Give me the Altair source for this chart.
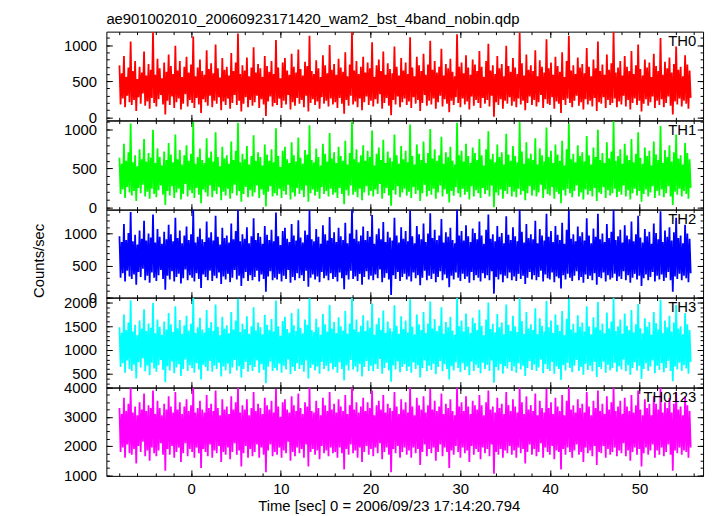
import altair as alt
import pandas as pd

FONT = "Liberation Sans"
TITLE = "ae901002010_20060923171420_wam2_bst_4band_nobin.qdp"
X_TITLE = "Time [sec] 0 = 2006/09/23 17:14:20.794"
Y_TITLE = "Counts/sec"

TIME_START = -8.0
TIME_END = 55.7
X_DOMAIN = [-9.46, 57.08]
X_MAJOR = [0, 10, 20, 30, 40, 50]
X_MINOR = list(range(-8, 57, 2))

NAMES = ["TH0", "TH1", "TH2", "TH3", "TH0123"]
COLORS = ["#ff0000", "#00ff00", "#0000ff", "#00ffff", "#ff00ff"]
Y_DOMAINS = [[-41, 1187], [-31, 1119], [-2, 1376], [208, 2104], [978, 4002]]
Y_MAJOR = [[0, 500, 1000], [0, 500, 1000], [0, 500, 1000],
           [500, 1000, 1500, 2000], [1000, 2000, 3000, 4000]]
Y_MINOR_STEP = [100, 100, 100, 100, 250]

TH0 = [720, 180, 610, 260, 850, 140, 560, 300, 690, 210, 1050, 170, 640, 240, 780, 90, 530, 280, 700, 190, 620, 330, 910, 160, 580, 220, 740, 120, 660, 270, 1180, 200,
       590, 150, 810, 250, 680, 310, 540, 180, 760, 40, 630, 230, 870, 170, 710, 290, 600, 130, 990, 210, 650, 260, 780, 110, 560, 190, 700, 320, 840, 150, 620, 240,
       730, 200, 1120, 130, 570, 270, 690, 180, 800, 60, 640, 250, 590, 210, 930, 160, 670, 300, 750, 140, 610, 230, 1010, 190, 680, 280, 550, 100, 820, 220, 660, 170,
       700, 260, 580, 120, 890, 200, 640, 310, 760, 170, 1160, 230, 600, 80, 720, 190, 650, 280, 830, 140, 570, 240, 690, 160, 970, 210, 620, 300, 740, 130, 680, 250,
       560, 180, 850, 20, 710, 220, 630, 290, 780, 150, 600, 200, 1070, 170, 690, 260, 540, 130, 760, 230, 820, 180, 650, 310, 590, 110, 880, 210, 700, 160, 620, 270,
       940, 190, 670, 240, 580, 140, 770, 300, 710, 80, 1130, 200, 640, 250, 600, 170, 790, 220, 680, 120, 560, 280, 860, 190, 720, 230, 610, 150, 1000, 260, 660, 180,
       740, 210, 590, 130, 810, 270, 690, 190, 630, 50, 900, 240, 570, 160, 730, 300, 1180, 180, 650, 220, 780, 140, 600, 260, 700, 100, 840, 210, 620, 290, 760, 170,
       680, 230, 1040, 150, 560, 250, 720, 190, 800, 320, 640, 120, 910, 200, 590, 270, 750, 160, 670, 30, 610, 240, 980, 180, 700, 290, 580, 140, 820, 210, 650, 260,
       760, 170, 600, 220, 1110, 130, 690, 280, 570, 190, 840, 240, 720, 90, 640, 200, 880, 310, 590, 160, 730, 230, 1060, 180, 660, 260, 780, 120, 620, 210, 700, 300,
       950, 150, 580, 250, 740, 190, 680, 70, 810, 230, 630, 170, 570, 280, 1150, 200, 700, 140, 760, 260, 610, 180, 860, 220, 690, 110, 590, 290, 800, 160, 730, 240,
       640, 200, 920, 130, 700, 270, 560, 190, 780, 240, 1020, 150, 650, 300, 720, 10, 600, 210, 850, 170, 680, 250, 740, 120, 570, 230, 990, 190, 710, 280, 630, 160,
       820, 220, 690, 140, 600, 260, 1170, 180, 750, 230, 580, 100, 870, 200, 660, 290, 720, 170, 640, 240, 930, 150, 570, 210, 790, 310, 700, 130, 620, 250, 1080, 190,
       680, 170, 760, 280, 590, 120, 840, 220, 710, 190, 630, 60, 900, 240, 560, 170, 780, 260, 1130, 200, 650, 140, 720, 230, 600, 300, 830, 160, 690, 210, 740, 110,
       610, 250, 960, 180, 700, 230, 570, 150, 800, 270, 680, 90, 1050, 210, 640, 190, 730, 280, 590, 130, 870, 240, 660, 170, 750, 200, 1190, 260, 620, 140, 690, 220,
       780, 180, 580, 300, 850, 150, 700, 240, 640, 110, 920, 200, 600, 260, 720, 170, 1010, 230, 670, 80, 580, 190, 800, 250, 690, 160, 760, 210, 560, 290, 880, 130,
       710, 230, 640, 170, 1100, 250, 590, 140, 770, 200, 680, 290, 830, 160, 620, 40, 740, 220, 980, 180, 660, 260, 700, 150, 570, 230, 860, 190, 730, 120, 650, 270]

TH1 = [640, 170, 560, 230, 820, 120, 600, 260, 710, 190, 1080, 150, 580, 210, 670, 80, 530, 250, 750, 180, 620, 290, 880, 140, 590, 200, 700, 110, 640, 240, 1000, 170,
       570, 130, 760, 220, 650, 280, 540, 160, 720, 30, 610, 210, 830, 150, 680, 270, 580, 120, 940, 190, 620, 240, 740, 100, 550, 170, 670, 300, 800, 140, 600, 220,
       690, 180, 1100, 120, 560, 250, 650, 160, 760, 50, 610, 230, 570, 190, 890, 140, 640, 280, 720, 130, 590, 210, 970, 170, 650, 260, 530, 90, 780, 200, 630, 150,
       670, 240, 560, 110, 850, 180, 610, 290, 730, 150, 1090, 210, 580, 70, 690, 170, 620, 260, 790, 130, 550, 220, 660, 140, 930, 190, 600, 280, 710, 120, 650, 230,
       540, 160, 810, 10, 680, 200, 600, 270, 750, 140, 580, 180, 1020, 150, 660, 240, 520, 120, 730, 210, 780, 160, 620, 290, 570, 100, 840, 190, 670, 140, 590, 250,
       900, 170, 640, 220, 560, 130, 740, 280, 680, 70, 1060, 180, 610, 230, 580, 150, 760, 200, 650, 110, 540, 260, 820, 170, 690, 210, 590, 140, 960, 240, 630, 160,
       710, 190, 570, 120, 780, 250, 660, 170, 600, 40, 860, 220, 550, 150, 700, 280, 1110, 160, 620, 200, 750, 130, 580, 240, 670, 90, 800, 190, 600, 270, 730, 150,
       650, 210, 990, 140, 540, 230, 690, 170, 770, 300, 610, 110, 870, 180, 570, 250, 720, 150, 640, 20, 590, 220, 940, 160, 670, 270, 560, 130, 790, 190, 620, 240,
       730, 150, 580, 200, 1070, 120, 660, 260, 550, 170, 810, 220, 690, 80, 610, 180, 850, 290, 570, 140, 700, 210, 1010, 160, 630, 240, 750, 110, 600, 190, 670, 280,
       910, 140, 560, 230, 710, 170, 650, 60, 780, 210, 600, 150, 550, 260, 1090, 180, 670, 130, 730, 240, 590, 160, 820, 200, 660, 100, 570, 270, 770, 140, 700, 220,
       610, 180, 880, 120, 670, 250, 540, 170, 750, 220, 980, 140, 620, 280, 690, 0, 580, 190, 810, 150, 650, 230, 710, 110, 550, 210, 950, 170, 680, 260, 600, 140,
       790, 200, 660, 130, 580, 240, 1100, 160, 720, 210, 560, 90, 840, 180, 630, 270, 690, 150, 610, 220, 890, 140, 550, 190, 760, 290, 670, 120, 590, 230, 1030, 170,
       650, 150, 730, 260, 570, 110, 810, 200, 680, 170, 600, 50, 860, 220, 540, 150, 750, 240, 1080, 180, 620, 130, 690, 210, 580, 280, 800, 140, 660, 190, 710, 100,
       590, 230, 920, 160, 670, 210, 550, 140, 770, 250, 650, 80, 1000, 190, 610, 170, 700, 260, 570, 120, 840, 220, 630, 150, 720, 180, 1110, 240, 600, 130, 660, 200,
       750, 160, 560, 280, 820, 140, 670, 220, 610, 100, 880, 180, 580, 240, 690, 150, 970, 210, 640, 70, 560, 170, 770, 230, 660, 140, 730, 190, 540, 270, 850, 120,
       680, 210, 610, 150, 1050, 230, 570, 130, 740, 180, 650, 270, 800, 140, 590, 30, 710, 200, 940, 160, 630, 240, 670, 140, 550, 210, 830, 170, 700, 110, 620, 250]

TH2 = [960, 310, 870, 380, 1150, 250, 900, 420, 1010, 330, 1340, 290, 880, 360, 980, 200, 830, 400, 1050, 320, 920, 450, 1200, 270, 890, 340, 1000, 230, 940, 390, 1300, 310,
       860, 260, 1070, 350, 950, 430, 840, 290, 1030, 120, 910, 340, 1140, 280, 990, 410, 880, 250, 1250, 320, 930, 370, 1050, 220, 850, 300, 970, 440, 1110, 270, 900, 350,
       990, 310, 1376, 250, 860, 380, 950, 290, 1080, 150, 910, 360, 870, 320, 1190, 270, 940, 420, 1020, 260, 890, 340, 1280, 300, 950, 390, 830, 210, 1090, 330, 930, 280,
       970, 370, 860, 240, 1160, 310, 910, 430, 1040, 280, 1370, 340, 880, 180, 990, 300, 920, 400, 1100, 260, 850, 350, 960, 270, 1240, 320, 900, 420, 1010, 250, 950, 360,
       840, 290, 1120, 90, 980, 330, 900, 410, 1060, 270, 880, 310, 1330, 280, 960, 370, 820, 250, 1040, 340, 1090, 290, 920, 430, 870, 230, 1150, 320, 970, 270, 890, 380,
       1210, 300, 940, 350, 860, 260, 1050, 420, 980, 170, 1370, 310, 910, 360, 880, 280, 1070, 330, 950, 240, 840, 400, 1130, 300, 990, 340, 890, 270, 1260, 380, 930, 290,
       1020, 320, 870, 250, 1090, 390, 960, 300, 900, 130, 1170, 350, 850, 280, 1000, 420, 1376, 290, 920, 330, 1060, 260, 880, 370, 970, 200, 1110, 320, 900, 410, 1040, 280,
       950, 340, 1290, 270, 840, 360, 990, 300, 1080, 440, 910, 240, 1180, 310, 870, 380, 1030, 280, 940, 40, 890, 350, 1250, 290, 970, 400, 860, 260, 1100, 320, 920, 370,
       1040, 280, 880, 330, 1360, 250, 960, 390, 850, 300, 1120, 350, 990, 190, 910, 310, 1160, 420, 870, 270, 1000, 340, 1320, 290, 930, 370, 1060, 240, 900, 320, 970, 410,
       1230, 270, 860, 360, 1020, 300, 950, 160, 1090, 340, 900, 280, 850, 390, 1376, 310, 970, 260, 1040, 370, 890, 290, 1130, 330, 960, 230, 870, 400, 1080, 270, 1010, 350,
       910, 310, 1190, 250, 970, 380, 840, 300, 1060, 350, 1300, 270, 920, 410, 990, 60, 880, 320, 1120, 280, 950, 360, 1010, 240, 850, 340, 1270, 300, 980, 390, 900, 270,
       1100, 330, 960, 260, 880, 370, 1376, 290, 1030, 340, 860, 210, 1150, 310, 930, 400, 990, 280, 910, 350, 1200, 270, 850, 320, 1070, 420, 970, 250, 890, 360, 1310, 300,
       950, 280, 1040, 390, 870, 240, 1120, 330, 980, 300, 900, 140, 1170, 350, 840, 280, 1060, 370, 1360, 310, 920, 260, 990, 340, 880, 410, 1110, 270, 960, 320, 1020, 230,
       890, 360, 1240, 290, 970, 340, 850, 270, 1080, 380, 950, 200, 1310, 320, 910, 300, 1000, 390, 870, 250, 1150, 350, 930, 280, 1030, 310, 1376, 370, 900, 260, 960, 330,
       1060, 290, 860, 410, 1130, 270, 970, 350, 910, 230, 1190, 310, 880, 370, 990, 280, 1280, 340, 940, 180, 860, 300, 1070, 360, 960, 270, 1030, 320, 840, 400, 1160, 250,
       1010, 340, 910, 280, 1350, 360, 870, 260, 1050, 310, 950, 400, 1100, 270, 890, 90, 1020, 330, 1250, 290, 930, 370, 970, 270, 850, 340, 1140, 300, 1000, 240, 920, 380]

TH3 = [1480, 640, 1360, 720, 1750, 520, 1420, 780, 1580, 600, 2050, 560, 1390, 690, 1530, 400, 1310, 740, 1620, 630, 1450, 820, 1860, 550, 1400, 670, 1560, 470, 1470, 730, 1990, 610,
       1350, 540, 1640, 680, 1490, 790, 1320, 580, 1600, 320, 1430, 660, 1780, 570, 1540, 760, 1380, 510, 1920, 630, 1460, 700, 1630, 450, 1340, 600, 1520, 800, 1720, 560, 1410, 680,
       1550, 620, 2100, 520, 1360, 720, 1480, 590, 1680, 380, 1430, 690, 1370, 640, 1840, 560, 1470, 770, 1590, 540, 1400, 670, 1960, 600, 1490, 730, 1310, 440, 1700, 650, 1450, 570,
       1520, 710, 1350, 500, 1800, 630, 1430, 790, 1620, 570, 2080, 660, 1380, 420, 1550, 600, 1440, 750, 1710, 540, 1340, 680, 1500, 560, 1900, 640, 1410, 780, 1580, 520, 1480, 700,
       1330, 580, 1740, 300, 1530, 650, 1420, 760, 1650, 560, 1390, 620, 2040, 570, 1500, 710, 1300, 520, 1610, 670, 1700, 590, 1440, 800, 1370, 490, 1780, 640, 1520, 560, 1400, 720,
       1870, 600, 1470, 680, 1350, 540, 1640, 780, 1530, 400, 2090, 620, 1420, 690, 1380, 570, 1660, 650, 1480, 500, 1320, 750, 1760, 600, 1540, 670, 1390, 550, 1950, 720, 1450, 590,
       1590, 640, 1360, 520, 1690, 740, 1500, 600, 1410, 360, 1820, 680, 1340, 570, 1560, 790, 2100, 590, 1430, 650, 1640, 540, 1380, 710, 1510, 440, 1730, 640, 1400, 770, 1620, 560,
       1470, 670, 1980, 550, 1320, 700, 1540, 600, 1680, 810, 1420, 500, 1830, 620, 1360, 730, 1600, 570, 1460, 330, 1390, 680, 1940, 590, 1510, 760, 1340, 530, 1710, 640, 1440, 700,
       1620, 560, 1370, 650, 2070, 520, 1490, 740, 1330, 600, 1750, 680, 1540, 420, 1420, 620, 1800, 780, 1360, 550, 1560, 670, 2020, 580, 1450, 710, 1650, 490, 1400, 640, 1510, 770,
       1900, 550, 1340, 700, 1590, 600, 1480, 380, 1700, 660, 1410, 570, 1320, 740, 2100, 620, 1500, 530, 1620, 720, 1390, 580, 1770, 650, 1490, 470, 1360, 760, 1680, 560, 1570, 690,
       1420, 620, 1850, 510, 1510, 730, 1310, 600, 1640, 690, 2000, 560, 1440, 780, 1550, 310, 1370, 640, 1760, 570, 1480, 700, 1580, 500, 1330, 660, 1960, 610, 1530, 750, 1400, 560,
       1720, 650, 1500, 520, 1380, 720, 2090, 590, 1610, 670, 1340, 450, 1800, 620, 1450, 770, 1540, 580, 1420, 690, 1880, 560, 1330, 630, 1670, 800, 1510, 510, 1390, 700, 2030, 600,
       1480, 560, 1620, 750, 1360, 500, 1750, 650, 1530, 600, 1400, 370, 1820, 680, 1310, 570, 1650, 730, 2080, 620, 1430, 530, 1550, 670, 1370, 790, 1730, 560, 1490, 640, 1580, 480,
       1390, 710, 1920, 580, 1500, 670, 1330, 550, 1690, 750, 1480, 430, 2010, 640, 1420, 600, 1560, 760, 1350, 520, 1790, 690, 1450, 570, 1600, 620, 2100, 730, 1400, 540, 1500, 660,
       1640, 590, 1340, 800, 1770, 550, 1510, 680, 1420, 480, 1840, 620, 1370, 740, 1540, 570, 1970, 670, 1460, 390, 1350, 600, 1670, 720, 1490, 560, 1590, 650, 1320, 780, 1800, 510,
       1570, 670, 1430, 580, 2060, 720, 1360, 530, 1620, 620, 1480, 770, 1720, 560, 1390, 340, 1580, 650, 1950, 590, 1450, 730, 1500, 560, 1330, 680, 1780, 610, 1540, 500, 1420, 750]

TH0123 = [3300, 1800, 3100, 1950, 3650, 1600, 3200, 2050, 3450, 1750, 4000, 1700, 3150, 1900, 3350, 1400, 3050, 2000, 3500, 1800, 3250, 2150, 3800, 1650, 3200, 1850, 3400, 1500, 3300, 1950, 3900, 1750,
          3100, 1650, 3550, 1850, 3300, 2100, 3050, 1700, 3450, 1150, 3250, 1900, 3700, 1700, 3350, 2000, 3150, 1600, 3850, 1800, 3250, 1950, 3500, 1450, 3100, 1750, 3350, 2100, 3600, 1650, 3200, 1900,
          3400, 1800, 4000, 1600, 3150, 1950, 3300, 1750, 3550, 1250, 3250, 1900, 3150, 1800, 3750, 1650, 3300, 2050, 3450, 1600, 3200, 1850, 3900, 1750, 3300, 2000, 3050, 1450, 3600, 1800, 3250, 1700,
          3350, 1950, 3100, 1550, 3700, 1800, 3250, 2100, 3500, 1700, 4000, 1850, 3150, 1300, 3400, 1750, 3250, 2000, 3600, 1600, 3050, 1900, 3300, 1650, 3850, 1800, 3200, 2050, 3450, 1600, 3300, 1950,
          3100, 1700, 3650, 1100, 3400, 1850, 3250, 2050, 3550, 1650, 3150, 1800, 3950, 1700, 3350, 1950, 3000, 1600, 3500, 1850, 3600, 1750, 3250, 2150, 3150, 1500, 3700, 1800, 3400, 1650, 3200, 1950,
          3800, 1750, 3300, 1900, 3100, 1600, 3500, 2050, 3350, 1300, 4000, 1800, 3200, 1900, 3150, 1700, 3550, 1850, 3300, 1550, 3050, 2000, 3650, 1750, 3400, 1850, 3200, 1650, 3850, 1950, 3250, 1750,
          3450, 1800, 3150, 1600, 3600, 1950, 3350, 1750, 3200, 1200, 3750, 1900, 3100, 1700, 3400, 2050, 4000, 1750, 3250, 1850, 3500, 1600, 3150, 1950, 3350, 1450, 3650, 1800, 3200, 2000, 3500, 1700,
          3300, 1900, 3900, 1650, 3050, 1950, 3400, 1750, 3550, 2100, 3250, 1550, 3750, 1800, 3150, 1950, 3450, 1700, 3300, 1100, 3200, 1900, 3850, 1750, 3350, 2000, 3100, 1600, 3600, 1800, 3250, 1950,
          3500, 1700, 3150, 1850, 4000, 1600, 3350, 1950, 3050, 1750, 3650, 1900, 3400, 1350, 3250, 1800, 3700, 2050, 3150, 1650, 3400, 1900, 3950, 1750, 3250, 1950, 3550, 1500, 3200, 1800, 3350, 2050,
          3800, 1650, 3100, 1950, 3450, 1800, 3300, 1250, 3600, 1850, 3200, 1700, 3050, 2000, 4000, 1800, 3350, 1600, 3500, 1950, 3200, 1750, 3700, 1850, 3350, 1450, 3100, 2000, 3550, 1700, 3400, 1900,
          3250, 1800, 3750, 1550, 3400, 1950, 3050, 1750, 3500, 1900, 3900, 1650, 3250, 2050, 3350, 1050, 3150, 1800, 3650, 1700, 3300, 1900, 3450, 1600, 3100, 1850, 3850, 1750, 3400, 2000, 3200, 1700,
          3600, 1850, 3350, 1600, 3150, 1950, 4000, 1750, 3500, 1900, 3100, 1400, 3700, 1800, 3250, 2050, 3400, 1700, 3200, 1900, 3800, 1650, 3050, 1800, 3550, 2100, 3300, 1600, 3150, 1950, 3950, 1800,
          3300, 1700, 3500, 2000, 3100, 1550, 3650, 1850, 3350, 1800, 3200, 1200, 3750, 1900, 3050, 1700, 3550, 1950, 4000, 1800, 3250, 1600, 3400, 1850, 3150, 2050, 3600, 1700, 3300, 1800, 3450, 1450,
          3150, 1950, 3850, 1750, 3350, 1850, 3050, 1650, 3550, 2000, 3300, 1350, 3900, 1800, 3200, 1750, 3450, 2000, 3100, 1600, 3700, 1900, 3250, 1700, 3500, 1800, 4000, 1950, 3200, 1650, 3350, 1850,
          3550, 1750, 3100, 2100, 3650, 1650, 3350, 1850, 3200, 1500, 3750, 1800, 3150, 1950, 3400, 1700, 3900, 1900, 3250, 1300, 3050, 1750, 3600, 1950, 3300, 1700, 3450, 1850, 3050, 2050, 3700, 1600,
          3450, 1850, 3250, 1700, 4000, 1950, 3150, 1650, 3500, 1800, 3300, 2050, 3650, 1700, 3150, 1150, 3450, 1850, 3850, 1750, 3250, 1950, 3350, 1700, 3050, 1850, 3700, 1800, 3400, 1600, 3200, 1950]

SERIES = [TH0, TH1, TH2, TH3, TH0123]

W = 603.5
HEIGHTS = [89.7, 90, 89, 91, 89.3]
MAJ = 6
MIN = 3


def axis(orient, values, size, labels=False, **extra):
    kw = dict(orient=orient, values=values, tickSize=size, offset=-size,
              domain=False, grid=False, labels=labels, ticks=True,
              tickColor="black", tickWidth=1)
    if "title" not in extra:
        kw["title"] = None
    if labels:
        kw.update(format="d", labelFlush=False, labelOverlap=False,
                  labelFont=FONT, labelFontSize=15, labelColor="black")
    kw.update(extra)
    return alt.Axis(**kw)


def make_panel(i):
    vals = SERIES[i]
    n = len(vals)
    step = (TIME_END - TIME_START) / (n - 1)
    df = pd.DataFrame({"t": [TIME_START + step * k for k in range(n)], "v": vals})
    xs = alt.Scale(domain=X_DOMAIN, nice=False, zero=False)
    ys = alt.Scale(domain=Y_DOMAINS[i], nice=False, zero=False)
    lo, hi = Y_DOMAINS[i]
    st = Y_MINOR_STEP[i]
    start = -(-lo // st) * st
    yminor = list(range(int(start), int(hi) + 1, st))
    last = i == 4
    H = HEIGHTS[i]

    if last:
        xb_major = axis("bottom", X_MAJOR, MAJ, labels=True, labelPadding=6,
                        title=X_TITLE, titleFont=FONT, titleFontSize=15,
                        titleFontWeight="normal", titleColor="black",
                        titleX=285.5, titleY=41, titleBaseline="alphabetic",
                        titleAlign="center")
    else:
        xb_major = axis("bottom", X_MAJOR, MAJ)
    if i == 2:
        yl_major = axis("left", Y_MAJOR[i], MAJ, labels=True, labelPadding=10,
                        title=Y_TITLE, titleFont=FONT, titleFontSize=15,
                        titleFontWeight="normal", titleColor="black",
                        titleAngle=270, titleX=-74.2, titleY=51.3,
                        titleBaseline="middle", titleAlign="center")
    else:
        yl_major = axis("left", Y_MAJOR[i], MAJ, labels=True, labelPadding=10)

    line = alt.Chart(df).mark_line(color=COLORS[i], strokeWidth=1.8, clip=True).encode(
        x=alt.X("t:Q", scale=xs, axis=xb_major),
        y=alt.Y("v:Q", scale=ys, axis=yl_major),
    )
    ax2 = alt.Chart(df).mark_point(opacity=0, size=1).encode(
        x=alt.X("t:Q", scale=xs, axis=axis("bottom", X_MINOR, MIN)),
        y=alt.Y("v:Q", scale=ys, axis=axis("left", yminor, MIN)),
    )
    ax3 = alt.Chart(df).mark_point(opacity=0, size=1).encode(
        x=alt.X("t:Q", scale=xs, axis=axis("top", X_MAJOR, MAJ)),
        y=alt.Y("v:Q", scale=ys, axis=axis("right", Y_MAJOR[i], MAJ)),
    )
    ax4 = alt.Chart(df).mark_point(opacity=0, size=1).encode(
        x=alt.X("t:Q", scale=xs, axis=axis("top", X_MINOR, MIN)),
        y=alt.Y("v:Q", scale=ys, axis=axis("right", yminor, MIN)),
    )
    label = alt.Chart(pd.DataFrame({"name": [NAMES[i]]})).mark_text(
        align="right", baseline="top", fontSize=15, font=FONT, color="black"
    ).encode(x=alt.value(W - 7), y=alt.value(3), text="name:N")

    layer = alt.layer(line, ax2, ax3, ax4, label).resolve_axis(
        x="independent", y="independent"
    ).properties(width=W, height=H)
    if i == 0:
        layer = layer.properties(title=alt.TitleParams(
            TITLE, anchor="start", frame="group", fontSize=15, font=FONT,
            fontWeight="normal", color="black", baseline="top", offset=4))
    return layer


panels = [make_panel(i) for i in range(5)]
chart = alt.vconcat(*panels, spacing=0, bounds="flush").properties(
    padding={"left": 23.5, "top": 0, "right": 5, "bottom": 0},
    background="white",
).configure_view(stroke="black", strokeWidth=1)

chart.save("out.html", embed_options={"renderer": "svg", "actions": False})
